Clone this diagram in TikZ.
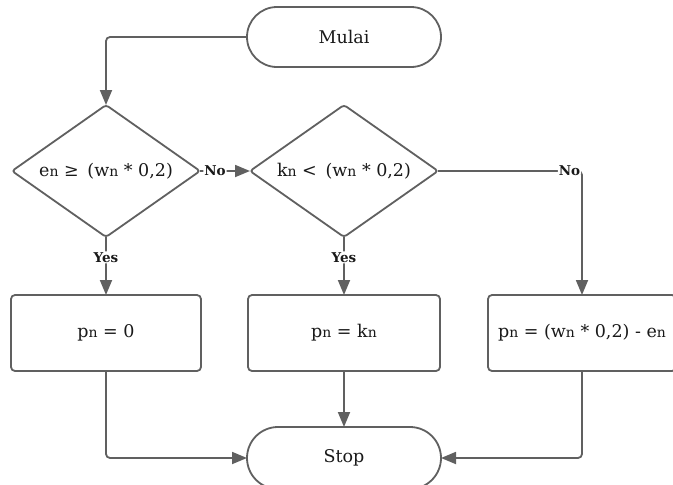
\documentclass[tikz,border=0pt]{standalone}
\usepackage{fontspec}
\setmainfont{DejaVu Serif}
\usetikzlibrary{arrows.meta,positioning,shapes.geometric}
\definecolor{Edge}{RGB}{96,96,96}
\definecolor{Ink}{RGB}{25,25,25}
\tikzset{
  fbase/.style={draw=Edge,line width=1.8pt,outer sep=0pt,align=center,text=Ink,font=\fontsize{17.5}{20}\selectfont,fill=white},
  fterm/.style={fbase,rectangle,rounded corners=30pt,minimum width=194pt,minimum height=60pt},
  fproc/.style={fbase,rectangle,rounded corners=4pt,minimum width=190pt,minimum height=76pt},
  fdec/.style={fbase,diamond,aspect=1.42,rounded corners=3pt,inner sep=0pt,minimum width=188pt,minimum height=132pt},
  farr/.style={-{Triangle[length=15pt,width=12pt]},line width=1.8pt,draw=Edge,rounded corners=4pt},
  flab/.style={font=\fontsize{13.5}{15}\selectfont\bfseries,text=Ink,fill=white,inner sep=1pt}
}
\newcommand{\ix}[1]{{\fontsize{14}{15}\selectfont #1}}

\begin{document}
\begin{tikzpicture}
\clip (0,0) rectangle (673pt,-485pt);
\node[fterm] (start) at (344pt,-37pt) {Mulai};
\node[fdec, below=38pt of start] (d2) {k\ix{n} <\enspace (w\ix{n} * 0,2)};
\node[fdec, left=50pt of d2] (d1) {e\ix{n} ≥\enspace (w\ix{n} * 0,2)};
\node[fproc, below=58pt of d1] (p1) {p\ix{n} = 0};
\node[fproc, below=58pt of d2, minimum width=192pt] (p2) {p\ix{n} = k\ix{n}};
\node[fproc, right=48pt of p2, minimum width=188pt] (p3) {p\ix{n} = (w\ix{n} * 0,2) - e\ix{n}};
\node[fterm, below=56pt of p2, minimum height=62pt, rounded corners=31pt] (stop) {Stop};
\draw[farr] (start.west) -| (d1.north);
\draw[farr] (d1.east) -- node[flab,pos=0.3]{No} (d2.west);
\draw[farr] (d2.east) -| node[flab,anchor=east,pos=0.5]{No} (p3.north);
\draw[farr] (d1.south) -- node[flab,pos=0.35]{Yes} (p1.north);
\draw[farr] (d2.south) -- node[flab,pos=0.35]{Yes} (p2.north);
\draw[farr] (p1.south) |- (stop.west);
\draw[farr] (p2.south) -- (stop.north);
\draw[farr] (p3.south) |- (stop.east);
\end{tikzpicture}
\end{document}
